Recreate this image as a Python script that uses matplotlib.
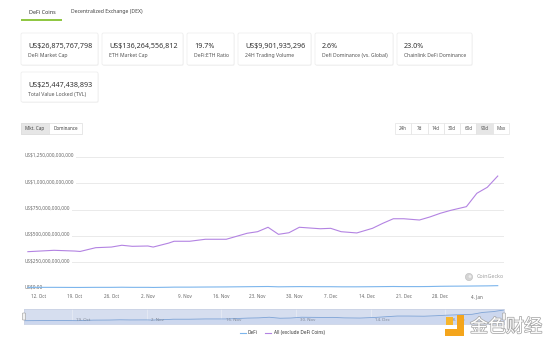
import numpy as np
import pandas as pd
import matplotlib
matplotlib.use("Agg")
import matplotlib.pyplot as plt
import matplotlib.transforms as mtransforms
import matplotlib.patheffects as pe
from matplotlib.patches import Rectangle, FancyBboxPatch, Circle

plt.rcParams['font.family'] = ['Noto Sans', 'DejaVu Sans']

# market cap series, in billions of US$
dates = ["2020-10-10", "2020-10-15", "2020-10-19", "2020-10-20", "2020-10-23",
         "2020-10-26", "2020-10-28", "2020-10-30", "2020-11-02", "2020-11-03",
         "2020-11-06", "2020-11-07", "2020-11-10", "2020-11-13", "2020-11-17",
         "2020-11-21", "2020-11-23", "2020-11-25", "2020-11-27", "2020-11-29",
         "2020-12-01", "2020-12-05", "2020-12-07", "2020-12-09", "2020-12-12",
         "2020-12-15", "2020-12-17", "2020-12-19", "2020-12-21", "2020-12-24",
         "2020-12-26", "2020-12-28", "2020-12-30", "2021-01-02", "2021-01-04",
         "2021-01-06", "2021-01-08"]
all_ex_defi = [350, 363, 356, 352, 388, 394, 411, 401, 404, 394,
               432, 449, 449, 468, 468, 525, 540, 582, 515, 530,
               582, 568, 572, 540, 528, 572, 620, 663, 663, 651,
               680, 715, 743, 778, 905, 962, 1069]
defi = [11, 11, 10, 10, 11, 11, 12, 11, 11, 10,
        12, 13, 13, 14, 15, 17, 18, 19, 16, 17,
        18, 17, 17, 16, 16, 17, 18, 19, 18, 18,
        19, 21, 22, 23, 24, 25, 27]

y_ticks = [0, 250, 500, 750, 1000, 1250]
y_tick_labels = ["US$0.00", "US$250,000,000,000", "US$500,000,000,000",
                 "US$750,000,000,000", "US$1,000,000,000,000", "US$1,250,000,000,000"]
x_tick_dates = ["2020-10-12", "2020-10-19", "2020-10-26", "2020-11-02", "2020-11-09",
                "2020-11-16", "2020-11-23", "2020-11-30", "2020-12-07", "2020-12-14",
                "2020-12-21", "2020-12-28", "2021-01-04"]
x_tick_labels = ["12. Oct", "19. Oct", "26. Oct", "2. Nov", "9. Nov", "16. Nov", "23. Nov",
                 "30. Nov", "7. Dec", "14. Dec", "21. Dec", "28. Dec", "4. Jan"]
nav_tick_dates = ["2020-10-19", "2020-11-02", "2020-11-16", "2020-11-30", "2020-12-14", "2020-12-28"]
nav_tick_labels = ["19. Oct", "2. Nov", "16. Nov", "30. Nov", "14. Dec", "28. Dec"]

stat_values = ["US$26,875,767,798", "US$136,264,556,812", "19.7%", "US$9,901,935,296",
               "2.6%", "23.0%", "US$25,447,438,893"]
stat_labels = ["DeFi Market Cap", "ETH Market Cap", "DeFi:ETH Ratio", "24H Trading Volume",
               "Defi Dominance (vs. Global)", "Chainlink DeFi Dominance", "Total Value Locked (TVL)"]
range_buttons = ["24h", "7d", "14d", "30d", "60d", "90d", "Max"]

PURPLE = "#b383e2"
BLUE = "#7cb5ec"
GRID = "#e6e6e6"

W, H = 554, 350
fig = plt.figure(figsize=(W / 100, H / 100), dpi=100)


def frac(x0, y0, x1, y1):
    return [x0 / W, 1 - y1 / H, (x1 - x0) / W, (y1 - y0) / H]


# page furniture in pixel coordinates
ui = fig.add_axes([0, 0, 1, 1], zorder=0)
ui.set_xlim(0, W)
ui.set_ylim(H, 0)
ui.axis('off')

ui.text(42, 12, "DeFi Coins", fontsize=3.9, fontweight='bold', color='#333',
        ha='center', va='center')
ui.plot([21, 62], [19.5, 19.5], color='#8dc63f', lw=1.4, solid_capstyle='butt')
ui.text(71, 12, "Decentralized Exchange (DEX)", fontsize=3.7, color='#444',
        ha='left', va='center')

card_boxes = [(21, 33, 98, 65), (102, 33, 183, 65), (187, 33, 234, 65), (238, 33, 311, 65),
              (315, 33, 393, 65), (397, 33, 472, 65), (21, 72, 98, 102)]
for (x0, y0, x1, y1), val, lab in zip(card_boxes, stat_values, stat_labels):
    ui.add_patch(FancyBboxPatch((x0 + 0.6, y0 + 0.8), x1 - x0, y1 - y0,
                                boxstyle="round,pad=0,rounding_size=1.5",
                                fc='#f3f3f3', ec='none'))
    ui.add_patch(FancyBboxPatch((x0, y0), x1 - x0, y1 - y0,
                                boxstyle="round,pad=0,rounding_size=1.5",
                                fc='white', ec='#ececec', lw=0.5))
    ui.text(x0 + 7, y0 + 13.5, val, fontsize=5.2, color='#333', va='center')
    ui.text(x0 + 7, y0 + 22.5, lab, fontsize=3.7, color='#555', va='center')

# chart type toggle
ui.add_patch(Rectangle((21, 123), 61, 11, fc='white', ec='#dddddd', lw=0.5))
ui.add_patch(Rectangle((21, 123), 28, 11, fc='#e6e6e6', ec='#dddddd', lw=0.5))
ui.text(35, 128.7, "Mkt. Cap", fontsize=3.3, color='#444', ha='center', va='center')
ui.text(65.5, 128.7, "Dominance", fontsize=3.3, color='#444', ha='center', va='center')

# time range selector
bx0, bx1 = 395, 509
bw = (bx1 - bx0) / len(range_buttons)
for i, lab in enumerate(range_buttons):
    fc = '#e6e6e6' if lab == "90d" else 'white'
    ui.add_patch(Rectangle((bx0 + i * bw, 123), bw, 11, fc=fc, ec='#e3e3e3', lw=0.5))
    ui.text(bx0 + (i + 0.5) * bw, 128.7, lab, fontsize=3.3, color='#555',
            ha='center', va='center')

# main chart
d = pd.to_datetime(dates)
t0 = pd.Timestamp("2020-10-12")
ax = fig.add_axes(frac(25, 150, 504, 288.5), zorder=1)
ax.patch.set_alpha(0)
ax.set_xlim(t0 - pd.Timedelta(days=2.55), t0 + pd.Timedelta(days=89.2))
ax.set_ylim(0, 1316.5)
for s in ax.spines.values():
    s.set_visible(False)
ax.set_yticks([])
ax.set_xticks([])

lab_tr = mtransforms.offset_copy(ax.get_yaxis_transform(), fig=fig, y=1.5, units='dots')
for v, lab in zip(y_ticks, y_tick_labels):
    ax.axhline(v, color=GRID, lw=0.6, zorder=0)
    ax.text(0, v, lab, transform=lab_tr, fontsize=3.4, color='#666', va='center', ha='left',
            bbox=dict(fc='white', ec='none', pad=0.8), zorder=1)

ax.plot(d, all_ex_defi, color=PURPLE, lw=0.8, zorder=3)
ax.plot(d, defi, color=BLUE, lw=0.8, zorder=3)

# date labels sit on a common baseline below the axis
date_tr = mtransforms.offset_copy(ax.get_xaxis_transform(), fig=fig, y=-9.5, units='dots')
for xd, lab in zip(pd.to_datetime(x_tick_dates), x_tick_labels):
    ax.text(xd, 0, lab, transform=date_tr, fontsize=3.3, color='#666',
            ha='center', va='baseline', clip_on=False)

# navigator strip
nav = fig.add_axes(frac(24, 309, 504, 324), zorder=1)
nav.set_facecolor('#d6deef')
nav.set_xlim(d[0], d[-1])
nav.set_ylim(128, 1136)
nav.plot(d, all_ex_defi, color='#7da3d6', lw=0.6)
nav.fill_between(d, all_ex_defi, 128, color='#ccd7ee', lw=0)
for s in nav.spines.values():
    s.set_color('#c9d1e3')
    s.set_linewidth(0.5)
nav.set_xticks([])
nav.set_yticks([])
for nd, lab in zip(pd.to_datetime(nav_tick_dates), nav_tick_labels):
    nav.axvline(nd, color='#e9edf6', lw=0.5, zorder=0)
    nav.text(nd + pd.Timedelta(days=0.8), 0.27, lab, transform=nav.get_xaxis_transform(),
             fontsize=3.1, color='#7f8796', va='center', ha='left')

# legend, watermarks and navigator handles on top
top = fig.add_axes([0, 0, 1, 1], zorder=3)
top.set_xlim(0, W)
top.set_ylim(H, 0)
top.axis('off')

for hx in (24, 504):
    top.add_patch(FancyBboxPatch((hx - 1.6, 313), 3.2, 7, boxstyle="round,pad=0,rounding_size=0.8",
                                 fc='#f2f2f2', ec='#999999', lw=0.4))

top.plot([240, 245.5], [332.5, 332.5], color=BLUE, lw=0.8)
top.text(248, 332.5, "DeFi", fontsize=3.4, fontweight='bold', color='#333', va='center')
top.plot([265, 271], [332.5, 332.5], color=PURPLE, lw=0.8)
top.text(274, 332.5, "All (exclude DeFi Coins)", fontsize=3.4, fontweight='bold',
         color='#333', va='center')

top.add_patch(Circle((469, 277), 3.6, fc='#d4d4d4', ec='#bbbbbb', lw=0.4))
top.add_patch(Circle((470, 276.5), 1.4, fc='#ededed', ec='none'))
top.text(477, 277, "CoinGecko", fontsize=3.9, color='#a0a0a0', va='center')

orange = '#f4a51c'
top.add_patch(Rectangle((446, 317), 7, 8, fc='#f7b52a', ec='none'))
top.add_patch(Rectangle((457, 315), 7, 21, fc=orange, ec='none'))
top.add_patch(Rectangle((445, 329), 19, 7, fc=orange, ec='none'))
top.text(506, 327, "金色财经", fontsize=13, family=['Noto Sans CJK SC', 'DejaVu Sans'],
         color='white', ha='center', va='center',
         path_effects=[pe.Stroke(linewidth=1.1, foreground='#a8a8a8'), pe.Normal()])

fig.savefig("out.png", dpi=100)
